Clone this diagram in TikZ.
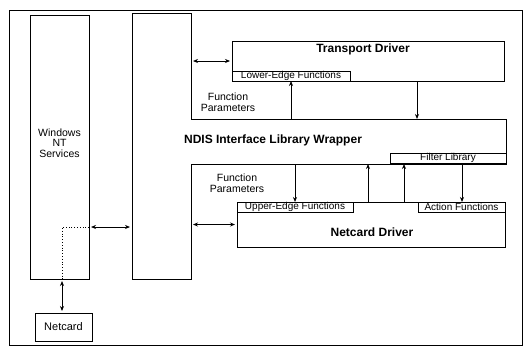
\documentclass[tikz,border=0pt]{standalone}
\usepackage{fontspec}
\setmainfont{Liberation Sans}
\usetikzlibrary{arrows.meta}
\begin{document}
\begin{tikzpicture}[x=1pt,y=-1pt,line width=0.8pt,
  box/.style={draw,inner sep=0pt,outer sep=0pt,anchor=north west},
  tab/.style={box,font=\fontsize{10}{10}\selectfont,minimum height=10pt},
  lbl/.style={font=\fontsize{10.5}{10.5}\selectfont,align=center},
  ttl/.style={font=\bfseries\fontsize{12}{12}\selectfont},
  arr/.style={-{Stealth[length=5pt,width=4pt]}},
  dbl/.style={{Stealth[length=5pt,width=4pt]}-{Stealth[length=5pt,width=4pt]},shorten <=2pt,shorten >=2pt}]
\useasboundingbox (0,0) rectangle (526,351);
% outer frame
\draw (9,10) rectangle (522,345);
% Windows NT services column
\node[box,minimum width=59pt,minimum height=264pt] (winnt) at (30,15) {};
\node[lbl] at (59.5,143) {Windows\\NT\\Services};
% wrapper: column plus right arm
\draw (132,13) -- (191,13) -- (191,119) -- (506,119) -- (506,164)
      -- (191,164) -- (191,279) -- (132,279) -- cycle;
\node[ttl] at (273,140) {NDIS Interface Library Wrapper};
\node[tab,minimum width=116pt] (filter) at (390,153) {Filter Library};
% transport driver
\node[box,minimum width=272pt,minimum height=40pt] (transport) at (232,41) {};
\node[ttl] at (363,49) {Transport Driver};
\node[tab,minimum width=118pt] (lowedge) at (232,71) {Lower-Edge Functions};
% netcard driver
\node[box,minimum width=268pt,minimum height=45pt] (netdrv) at (237,202) {};
\node[ttl] at (372,232) {Netcard Driver};
\node[tab,minimum width=116pt] (upedge) at (237,202) {Upper-Edge Functions};
\node[tab,minimum width=87pt] (action) at (418,202) {Action Functions};
% netcard
\node[box,minimum width=57pt,minimum height=28pt,font=\fontsize{11}{11}\selectfont,anchor=north west] (netcard) at (35,313) {Netcard};
\node[lbl] at (228,102) {Function\\Parameters};
\node[lbl] at (237,183) {Function\\Parameters};
% calls between wrapper and drivers
\coordinate (wtA) at (291,119);
\coordinate (wtB) at (417,119);
\coordinate (wbA) at (295,164);
\coordinate (wbB) at (368,164);
\coordinate (fbA) at (404,164);
\coordinate (fbB) at (462,164);
\draw[arr] (wtA) -- (wtA |- lowedge.south);
\draw[arr] (wtB |- transport.south) -- (wtB);
\draw[arr] (wbA) -- (wbA |- upedge.north);
\draw[arr] (wbB |- netdrv.north) -- (wbB);
\draw[arr] (fbA |- netdrv.north) -- (fbA);
\draw[arr] (fbB) -- (fbB |- action.north);
% data paths
\coordinate (wr1) at (191,61);
\coordinate (wr2) at (191,224.5);
\coordinate (wl) at (132,227);
\draw[dbl] (wr1) -- (wr1 -| transport.west);
\draw[dbl] (wr2) -- (netdrv.west);
\draw[dbl] (wl -| winnt.east) -- (wl);
\coordinate (tap) at (62,227);
\draw[dotted] (tap -| winnt.east) -- (tap) -- (tap |- winnt.south);
\draw[dbl] (tap |- winnt.south) -- (tap |- netcard.north);
\end{tikzpicture}
\end{document}
